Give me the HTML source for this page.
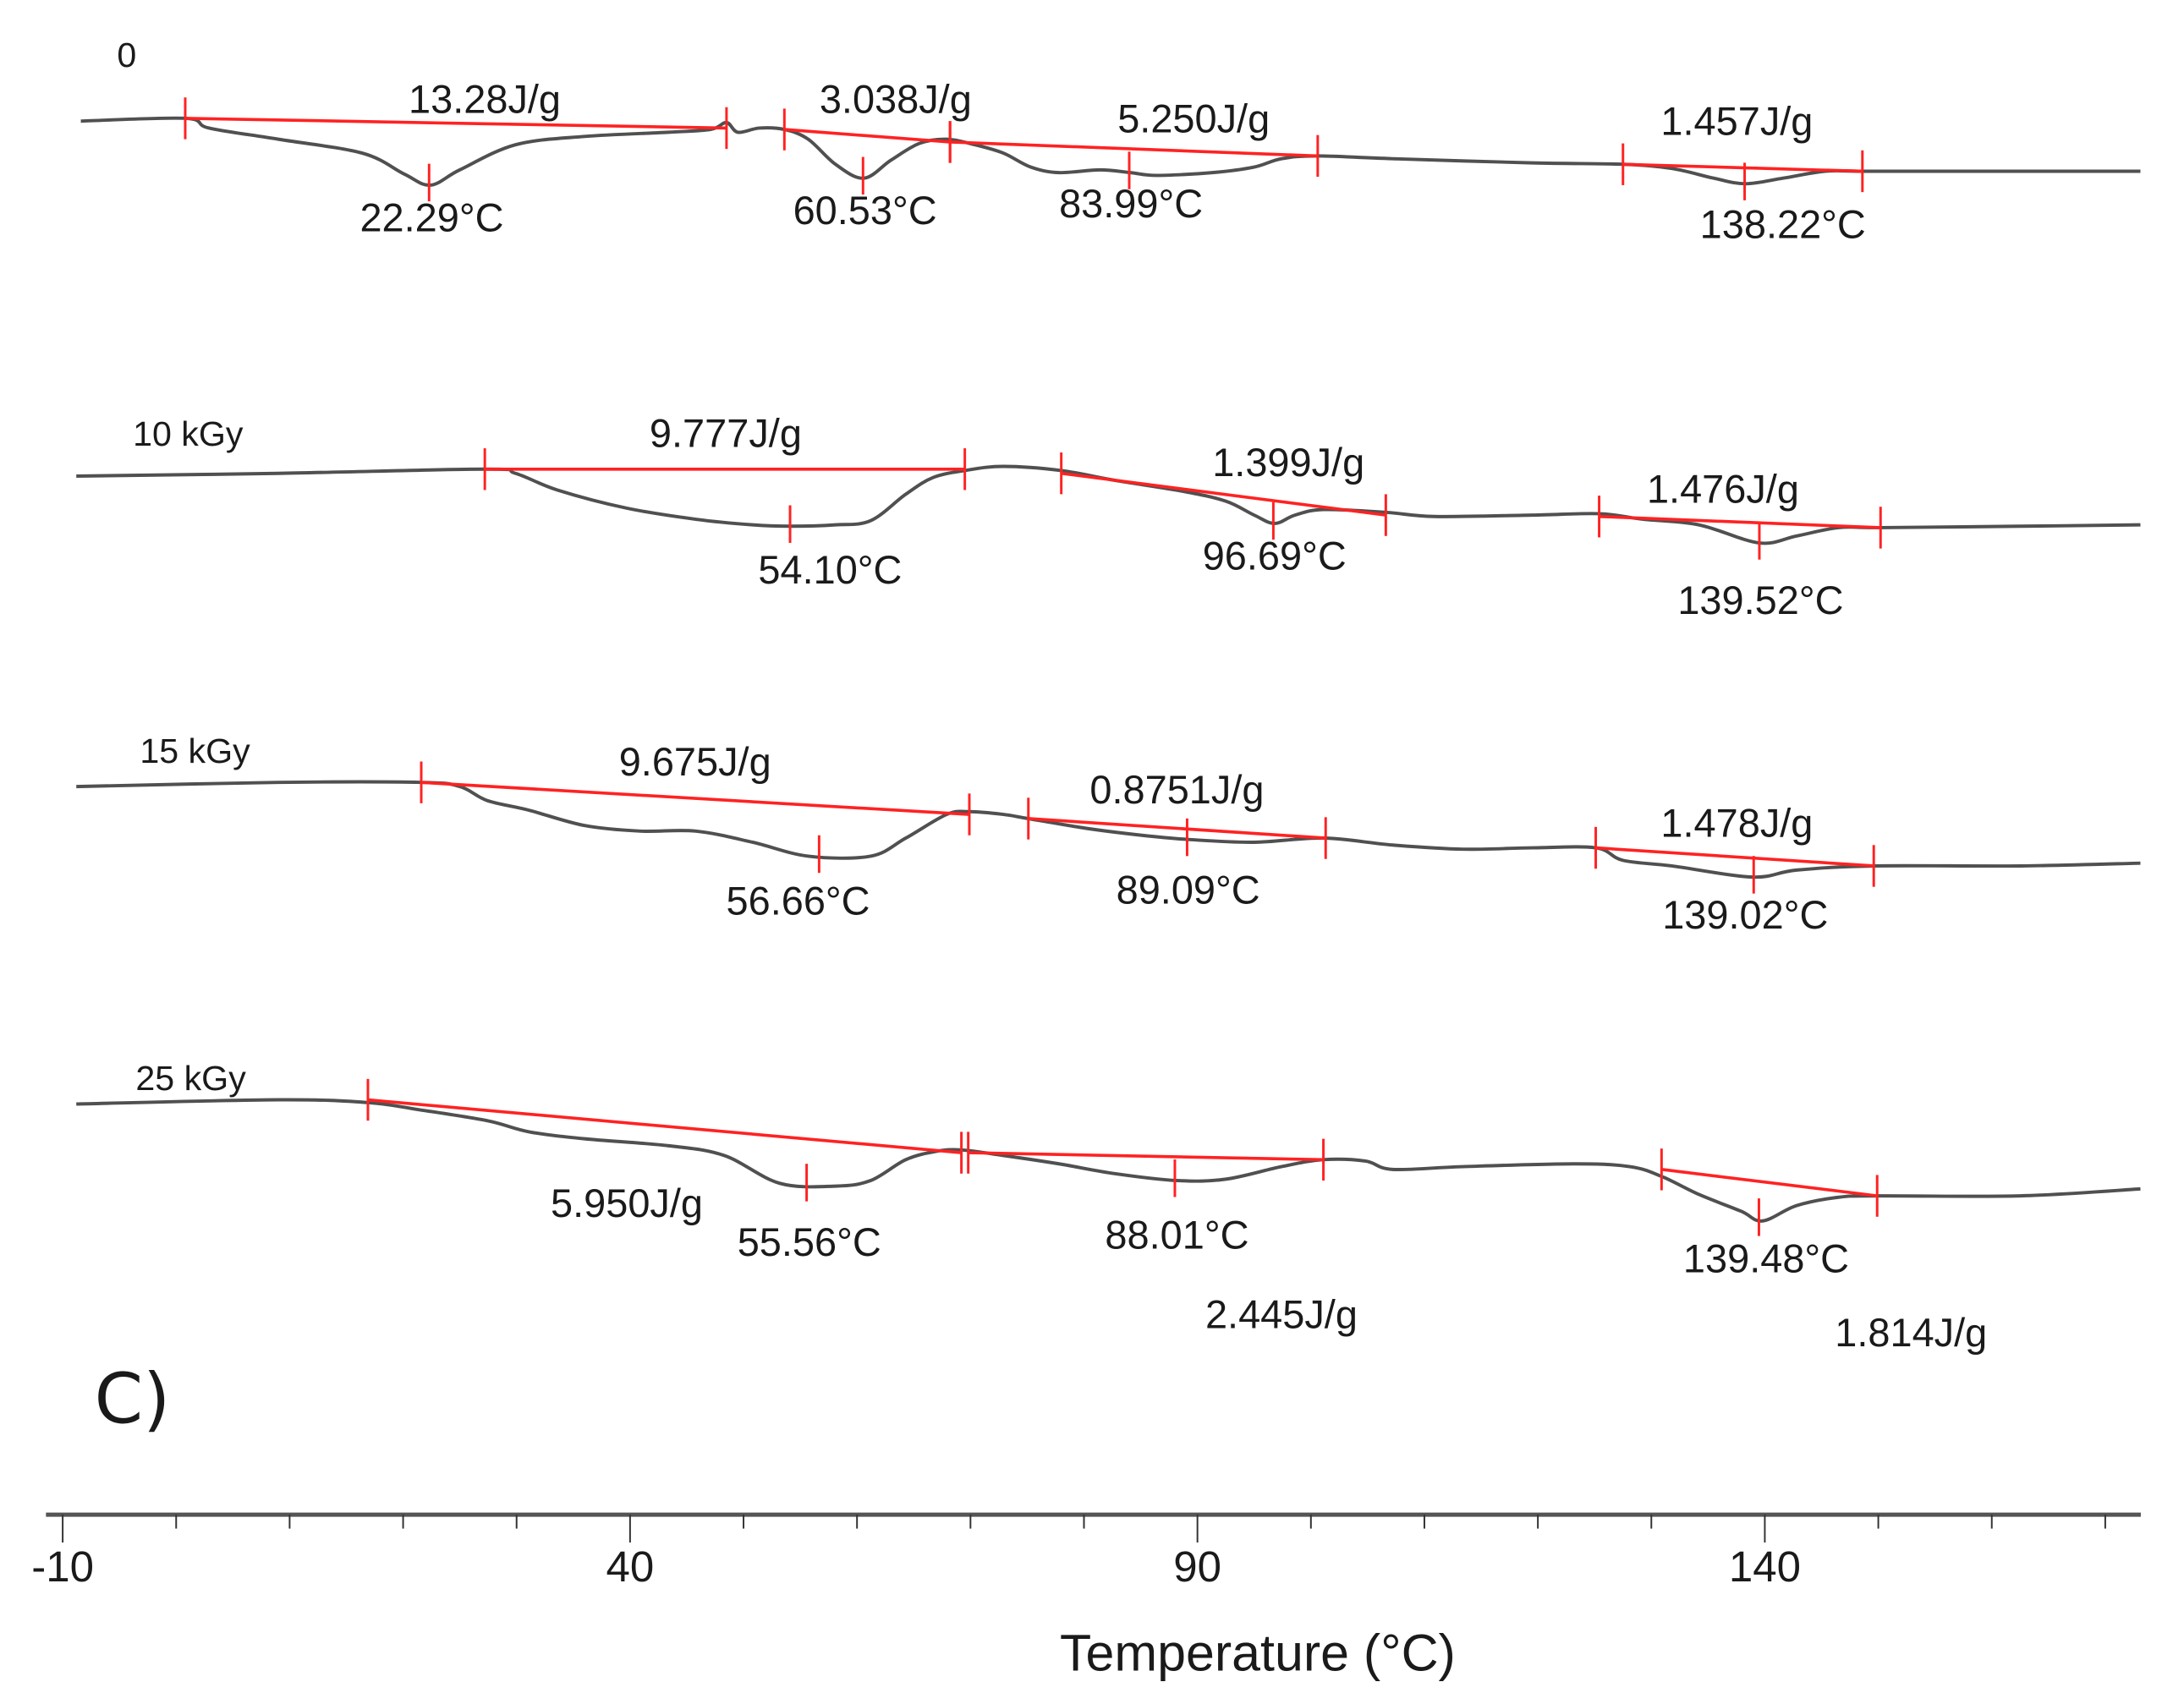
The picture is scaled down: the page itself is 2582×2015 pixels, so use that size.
<!DOCTYPE html>
<html><head><meta charset="utf-8"><style>
html,body{margin:0;padding:0;background:#fff;}
svg{display:block;}
text{font-family:"Liberation Sans",sans-serif;fill:#1a1a1a;}
</style></head><body>
<svg id="chart" width="2582" height="2015" viewBox="0 0 1568 1224" preserveAspectRatio="none" xmlns="http://www.w3.org/2000/svg">
<g id="axis"></g>
<g id="traces"></g>
<text x="95" y="1022" font-size="50" text-anchor="middle" style="font-family:'DejaVu Sans',sans-serif">C)</text>
<text x="903" y="1200" font-size="37" text-anchor="middle">Temperature (°C)</text>
</svg>
<script>
// ---- data ----
const xTicks = [-10, 40, 90, 140];
const xTickLabels = ["-10", "40", "90", "140"];
const traceNames = ["0", "10 kGy", "15 kGy", "25 kGy"];
const traceOrigins = [87, 342, 565, 793];
const nameLabelPos = [[91, 48], [135, 320], [140, 548], [137, 783]];

const t0T = [-8.4,0.8,2.9,9.0,16.4,20.1,22.4,25.0,29.9,36.0,43.4,47.1,48.5,49.5,51.4,53.6,55.7,58.1,60.6,63.0,65.5,67.9,70.4,72.9,75.3,77.8,81.4,84.1,86.4,91.3,95.0,97.4,100.6,107.2,119.5,127.5,131.8,135.5,138.3,141.6,145.3,148.6,156.3,173.1];
const t0V = [0,2,-5,-13,-23,-38,-46,-35,-17,-11,-8,-6,-1,-8,-5,-6,-13,-31,-41,-28,-16,-13,-17,-23,-33,-37,-35,-37,-39,-37,-33,-27,-25,-27,-30,-31,-34,-41,-45,-41,-36,-36,-36,-36];
const t1T = [-8.8,9.0,27.2,29.9,33.6,39.7,45.8,50.8,54.2,58.1,61.2,64.3,66.7,69.5,72.9,78.0,82.7,88.8,92.5,95.0,96.8,98.6,101.1,106.6,110.9,119.5,125.4,129.3,134.2,139.5,142.8,146.5,150.2,162.5,173.1];
const t1V = [0,2,5,2,-10,-23,-31,-35,-36,-35,-32,-13,-1,4,7,4,-3,-11,-18,-28,-34,-28,-24,-26,-29,-28,-27,-31,-35,-48,-43,-37,-37,-36,-35];
const t2T = [-8.8,9.0,21.6,25.0,27.4,31.1,36.0,40.9,45.8,50.8,55.7,61.2,64.3,67.9,69.9,72.9,75.1,80.2,85.1,89.2,95.0,101.1,107.2,113.4,119.5,125.1,127.5,131.8,138.9,142.8,149.6,162.5,173.1];
const t2V = [0,3,3,0,-10,-17,-28,-32,-32,-40,-50,-50,-37,-20,-18,-20,-23,-30,-35,-38,-40,-37,-42,-45,-44,-44,-53,-57,-65,-60,-57,-57,-55];
const t3T = [-8.8,9.0,16.9,21.3,27.4,31.1,36.0,43.4,48.3,53.2,58.1,61.2,64.3,67.0,69.2,72.9,77.8,82.7,88.2,92.5,97.4,101.1,104.8,107.2,113.4,123.2,128.1,130.9,134.2,137.9,139.8,142.8,146.5,149.9,162.5,173.1];
const t3V = [0,3,1,-4,-12,-20,-25,-30,-37,-57,-59,-55,-40,-34,-33,-37,-43,-50,-55,-54,-45,-40,-41,-47,-45,-43,-45,-52,-65,-77,-84,-73,-67,-66,-66,-61];

// integration baselines: [startT, startV, endT, endV]
const base0 = [[0.8,2,48.5,-5],[53.6,-6,68.2,-15],[68.2,-15,100.6,-25],[127.5,-31,148.6,-36]];
const base1 = [[27.2,5,69.5,5],[78.0,2,106.6,-28],[125.4,-29,150.2,-37]];
const base2 = [[21.6,3,69.9,-20],[75.1,-23,101.3,-37],[125.1,-44,149.6,-57]];
const base3 = [[16.9,3,69.2,-35],[69.8,-35,101.1,-40],[130.9,-47,149.9,-66]];

const peaks0 = [22.29, 60.53, 83.99, 138.22];
const peaks1 = [54.10, 96.69, 139.52];
const peaks2 = [56.66, 89.09, 139.02];
const peaks3 = [55.56, 88.01, 139.48];

const enth0 = ["13.28J/g","3.038J/g","5.250J/g","1.457J/g"];
const enth1 = ["9.777J/g","1.399J/g","1.476J/g"];
const enth2 = ["9.675J/g","0.8751J/g","1.478J/g"];
const enth3 = ["5.950J/g","2.445J/g","1.814J/g"];
const enthPos = [[[348,81],[643,81],[857,95],[1247,97]],[[521,321],[925,342],[1237,361]],[[499,557],[845,577],[1247,601]],[[450,874],[920,954],[1372,967]]];
const peakPos = [[[310,166],[621,161],[812,156],[1280,171]],[[596,419],[915,409],[1264,441]],[[573,657],[853,649],[1253,667]],[[581,902],[845,897],[1268,914]]];

// ---- scales ----
const xs = t => 45 + (t + 10) * 8.147;
const ys = (i, v) => traceOrigins[i] - v;
const NS = "http://www.w3.org/2000/svg";
function mk(tag, attrs, parent) {
  const e = document.createElementNS(NS, tag);
  for (const k in attrs) e.setAttribute(k, attrs[k]);
  parent.appendChild(e);
  return e;
}
// axis
const ax = document.getElementById('axis');
const axLine = mk('line', {x1:33, x2:1537, y1:1088, y2:1088, stroke:'#555', 'stroke-width':3}, ax);


for (let t = -10; t <= 170; t += 10) {
  const major = xTicks.includes(t);
  const tk = mk('line', {x1:xs(t), x2:xs(t), y1:1088, y2:major?1108:1098, stroke:'#333', 'stroke-width':1.2}, ax);
  
  
}
xTicks.forEach((t, i) => {
  const tx = mk('text', {x:xs(t), y:1136, 'font-size':31, 'text-anchor':'middle'}, ax);
  tx.textContent = xTickLabels[i];
  
  
});
// curve path (Catmull-Rom)
function pathFor(i, T, V) {
  const p = T.map((t, k) => [xs(t), ys(i, V[k])]);
  let d = `M${p[0][0]},${p[0][1]}`;
  for (let k = 0; k < p.length - 1; k++) {
    const p0 = p[k-1] || p[k], p1 = p[k], p2 = p[k+1], p3 = p[k+2] || p2;
    const c1 = [p1[0] + (p2[0]-p0[0])/6, p1[1] + (p2[1]-p0[1])/6];
    const c2 = [p2[0] - (p3[0]-p1[0])/6, p2[1] - (p3[1]-p1[1])/6];
    d += ` C${c1[0]},${c1[1]} ${c2[0]},${c2[1]} ${p2[0]},${p2[1]}`;
  }
  return d;
}
function interp(T, V, t) {
  for (let k = 0; k < T.length - 1; k++) if (t >= T[k] && t <= T[k+1]) return V[k] + (V[k+1]-V[k])*(t-T[k])/(T[k+1]-T[k]);
  return V[V.length-1];
}
const tr = document.getElementById('traces');
const allT = [t0T, t1T, t2T, t3T], allV = [t0V, t1V, t2V, t3V];
const allB = [base0, base1, base2, base3], allP = [peaks0, peaks1, peaks2, peaks3];
const allE = [enth0, enth1, enth2, enth3];
allT.forEach((T, i) => {
  const g = mk('g', {}, tr);
  
  
  const nm = mk('text', {x:nameLabelPos[i][0], y:nameLabelPos[i][1], 'font-size':25, 'text-anchor':'middle'}, g);
  nm.textContent = traceNames[i];
  
  
  const c = mk('path', {d:pathFor(i, T, allV[i]), fill:'none', stroke:'#505050', 'stroke-width':2.4}, g);
  
  
  allB[i].forEach(b => {
    const l = mk('line', {x1:xs(b[0]), y1:ys(i,b[1]), x2:xs(b[2]), y2:ys(i,b[3]), stroke:'#f22', 'stroke-width':2.2}, g);
    
    
    [[b[0],b[1]],[b[2],b[3]]].forEach(q => {
      const m = mk('line', {x1:xs(q[0]), x2:xs(q[0]), y1:ys(i,q[1])-15, y2:ys(i,q[1])+15, stroke:'#f22', 'stroke-width':1.8}, g);
      
      
    });
  });
  allP[i].forEach((pt, k) => {
    const y = ys(i, interp(T, allV[i], pt));
    const m = mk('line', {x1:xs(pt), x2:xs(pt), y1:y-15, y2:y+12, stroke:'#f22', 'stroke-width':1.8}, g);
    
    
    const lb = mk('text', {x:peakPos[i][k][0], y:peakPos[i][k][1], 'font-size':28.5, 'text-anchor':'middle'}, g);
    lb.textContent = pt.toFixed(2) + '°C';
    
    
  });
  allE[i].forEach((e, k) => {
    const lb = mk('text', {x:enthPos[i][k][0], y:enthPos[i][k][1], 'font-size':28.5, 'text-anchor':'middle'}, g);
    lb.textContent = e;
    
    
  });
});
</script>
</body></html>
